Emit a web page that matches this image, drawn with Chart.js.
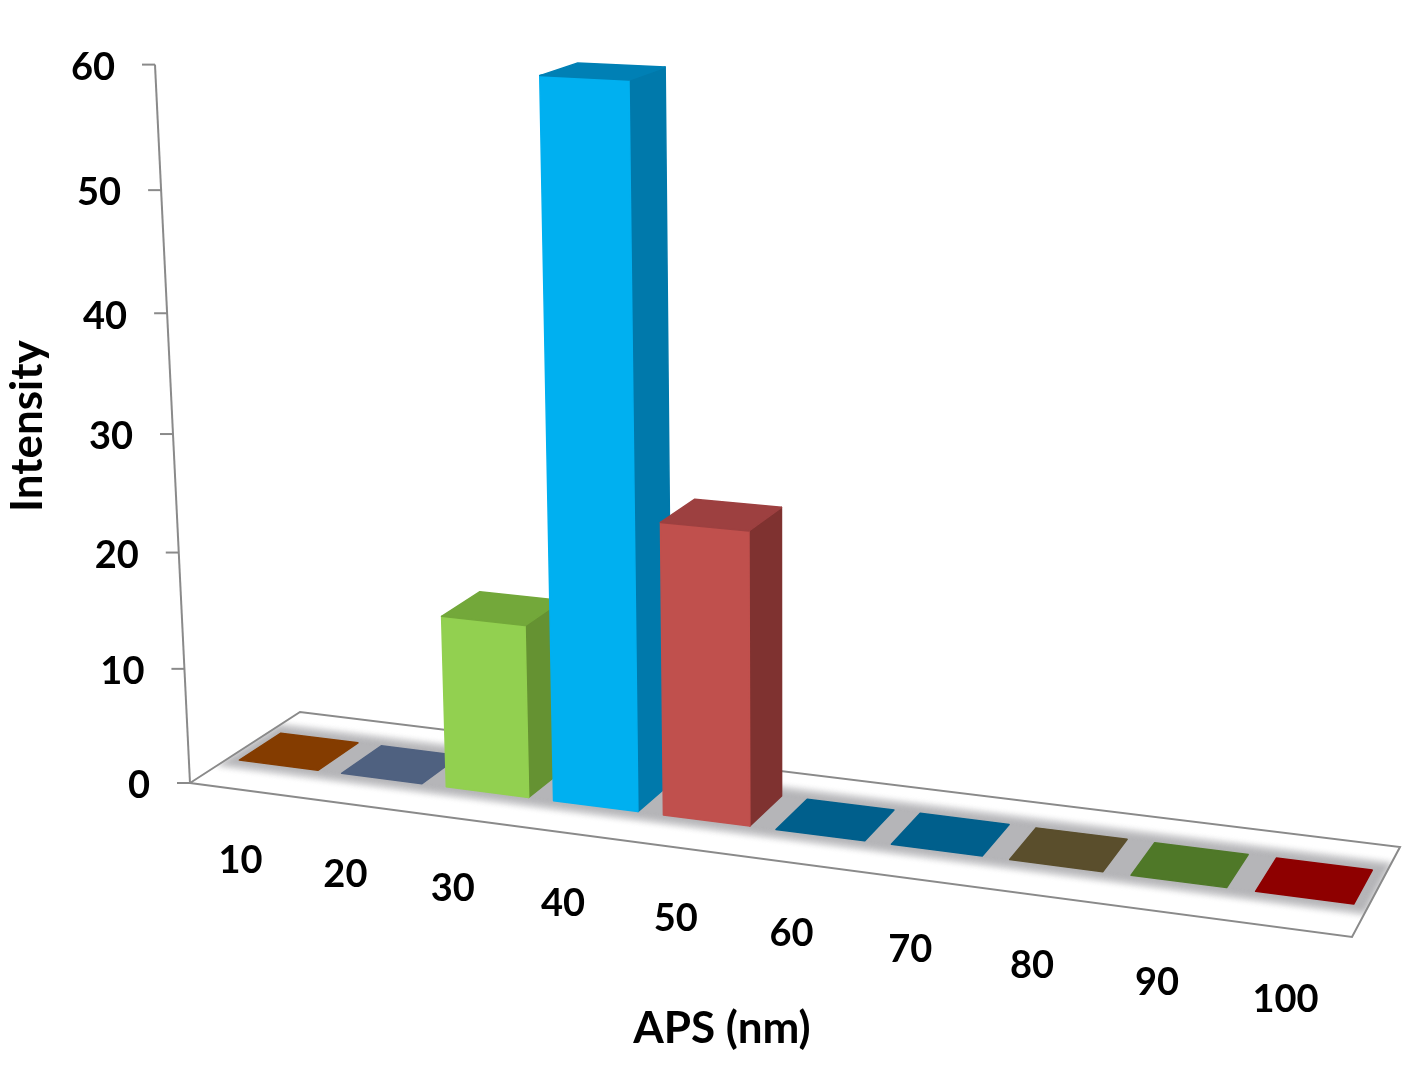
<!DOCTYPE html>
<html lang="en">
<head>
    <meta charset="UTF-8">
    <title>APS (nm) vs Intensity</title>
    <style>
        body { margin: 0; background: #fff; }
        #chart { display: block; }
    </style>
</head>
<body>
    <canvas id="chart" width="1417" height="1065"></canvas>

    <script src="https://cdn.jsdelivr.net/npm/chart.js"></script>
    <script>
        // Data
        const categories = ['10', '20', '30', '40', '50', '60', '70', '80', '90', '100'];
        const intensity = [0, 0, 14.8, 59.6, 24.6, 0, 0, 0, 0, 0];
        const yTicks = [0, 10, 20, 30, 40, 50, 60];

        // Colours: front, side, top
        const frontColors = ['#843c00', '#4f6180', '#92d050', '#00b0f0', '#c0504d', '#005f8c', '#005f8c', '#5a4e2c', '#4f7828', '#8e0000'];
        const sideColors = ['#622d00', '#3b4860', '#659232', '#0079ab', '#7f3230', '#004669', '#004669', '#433a21', '#3b5a1e', '#6a0000'];
        const topColors = ['#843c00', '#4f6180', '#73a83a', '#0080b5', '#9d4040', '#005f8c', '#005f8c', '#5a4e2c', '#4f7828', '#8e0000'];

        // Floor corners on the page, used for the perspective only
        const FL = [190, 783], FR = [1352, 937], BR = [1400, 847], BL = [300, 712];
        const VANISH = [787, 13032];   // where the vertical edges meet
        const LAMBDA = -0.0554;
        const BAR_DEPTH = [0.33, 0.71];
        const BAND_DEPTH = [0.25, 0.8];
        const LINE = '#8a8a8a';
        const FONT = 'bold 38px Lato';

        // unit square -> floor
        function floorMatrix() {
            const dx1 = FR[0] - BR[0], dx2 = BL[0] - BR[0], sx = FL[0] - FR[0] + BR[0] - BL[0];
            const dy1 = FR[1] - BR[1], dy2 = BL[1] - BR[1], sy = FL[1] - FR[1] + BR[1] - BL[1];
            const det = dx1 * dy2 - dx2 * dy1;
            const g = (sx * dy2 - dx2 * sy) / det;
            const h = (dx1 * sy - sx * dy1) / det;
            return {
                a: FR[0] - FL[0] + g * FR[0], b: BL[0] - FL[0] + h * BL[0], c: FL[0],
                d: FR[1] - FL[1] + g * FR[1], e: BL[1] - FL[1] + h * BL[1], f: FL[1],
                g: g, h: h
            };
        }
        const M = floorMatrix();

        // u along the categories, w into the depth, v up the value axis (all 0..1)
        function project(u, w, v) {
            const k = v * LAMBDA;
            const W = M.g * u + M.h * w + 1 + k;
            return [
                (M.a * u + M.b * w + M.c + k * VANISH[0]) / W,
                (M.d * u + M.e * w + M.f + k * VANISH[1]) / W
            ];
        }

        function quad(ctx, pts, color) {
            ctx.beginPath();
            pts.forEach((p, i) => i ? ctx.lineTo(p[0], p[1]) : ctx.moveTo(p[0], p[1]));
            ctx.closePath();
            ctx.fillStyle = color;
            ctx.strokeStyle = color;
            ctx.lineWidth = 1.5;
            ctx.lineJoin = 'round';
            ctx.fill();
            ctx.stroke();
        }

        function segment(ctx, a, b) {
            ctx.beginPath();
            ctx.moveTo(a[0], a[1]);
            ctx.lineTo(b[0], b[1]);
            ctx.stroke();
        }

        const perspective = {
            id: 'perspective',
            beforeDatasetsDraw(chart) {
                const ctx = chart.ctx;
                const y = chart.scales.y;

                // grey band under the bars
                ctx.save();
                ctx.beginPath();
                ctx.moveTo(FL[0], FL[1]); ctx.lineTo(FR[0], FR[1]); ctx.lineTo(BR[0], BR[1]); ctx.lineTo(BL[0], BL[1]);
                ctx.closePath();
                ctx.clip();
                ctx.filter = 'blur(3px)';
                quad(ctx, [project(0, BAND_DEPTH[0], 0), project(1, BAND_DEPTH[0], 0), project(1, BAND_DEPTH[1], 0), project(0, BAND_DEPTH[1], 0)], '#b5b5b8');
                ctx.restore();

                // floor outline, value axis and its ticks
                ctx.save();
                ctx.strokeStyle = LINE;
                ctx.lineWidth = 2;
                ctx.lineJoin = 'miter';
                ctx.beginPath();
                ctx.moveTo(FL[0], FL[1]); ctx.lineTo(FR[0], FR[1]); ctx.lineTo(BR[0], BR[1]); ctx.lineTo(BL[0], BL[1]);
                ctx.closePath();
                ctx.stroke();
                segment(ctx, project(0, 0, 0), project(0, 0, 1));
                yTicks.forEach(t => {
                    const v = (y.bottom - y.getPixelForValue(t)) / y.height;
                    const p = project(0, 0, v);
                    segment(ctx, p, [p[0] - 13, p[1]]);
                });
                ctx.restore();
            },
            beforeDatasetDraw(chart, args) {
                const ctx = chart.ctx;
                const area = chart.chartArea;
                const y = chart.scales.y;
                const elements = chart.getDatasetMeta(args.index).data;
                elements.forEach((el, i) => {
                    const u0 = (el.x - el.width / 2 - area.left) / area.width;
                    const u1 = (el.x + el.width / 2 - area.left) / area.width;
                    const v = (y.bottom - el.y) / y.height;
                    const w0 = BAR_DEPTH[0], w1 = BAR_DEPTH[1];
                    if (v > 0) {
                        quad(ctx, [project(u1, w0, 0), project(u1, w1, 0), project(u1, w1, v), project(u1, w0, v)], sideColors[i]);
                        quad(ctx, [project(u0, w0, 0), project(u1, w0, 0), project(u1, w0, v), project(u0, w0, v)], frontColors[i]);
                    }
                    quad(ctx, [project(u0, w0, v), project(u1, w0, v), project(u1, w1, v), project(u0, w1, v)], topColors[i]);
                });
                return false;
            },
            afterDraw(chart) {
                const ctx = chart.ctx;
                const x = chart.scales.x;
                const y = chart.scales.y;
                const area = chart.chartArea;
                ctx.save();
                ctx.fillStyle = '#000';
                ctx.font = FONT;
                ctx.textBaseline = 'middle';
                ctx.textAlign = 'right';
                yTicks.forEach(t => {
                    const p = project(0, 0, (y.bottom - y.getPixelForValue(t)) / y.height);
                    ctx.fillText(String(t), p[0] - 40, p[1] + 3);
                });
                ctx.textAlign = 'center';
                categories.forEach((c, i) => {
                    const u = (x.getPixelForValue(i) - area.left) / area.width;
                    const p = project(u, 0, 0);
                    ctx.fillText(c, p[0] - 1, p[1] + 71);
                });
                ctx.restore();
            }
        };

        new Chart(document.getElementById('chart'), {
            type: 'bar',
            data: {
                labels: categories,
                datasets: [{ label: 'Intensity', data: intensity, backgroundColor: frontColors }]
            },
            plugins: [perspective],
            options: {
                responsive: false,
                animation: false,
                layout: { padding: { left: 1, right: 35, top: 34, bottom: 10 } },
                plugins: { legend: { display: false }, tooltip: { enabled: false } },
                datasets: { bar: { categoryPercentage: 1, barPercentage: 0.77 } },
                scales: {
                    x: {
                        ticks: { display: false },
                        grid: { display: false },
                        border: { display: false },
                        title: {
                            display: true, text: 'APS (nm)', color: '#000',
                            font: { family: 'Lato', size: 44, weight: 'bold' },
                            padding: { top: 176, bottom: 0 }
                        }
                    },
                    y: {
                        min: 0, max: 60,
                        ticks: { display: false, stepSize: 10 },
                        grid: { display: false },
                        border: { display: false },
                        title: {
                            display: true, text: 'Intensity', color: '#000',
                            font: { family: 'Lato', size: 44, weight: 'bold' },
                            padding: { top: 0, bottom: 0 }
                        }
                    }
                }
            }
        });
    </script>
</body>
</html>
